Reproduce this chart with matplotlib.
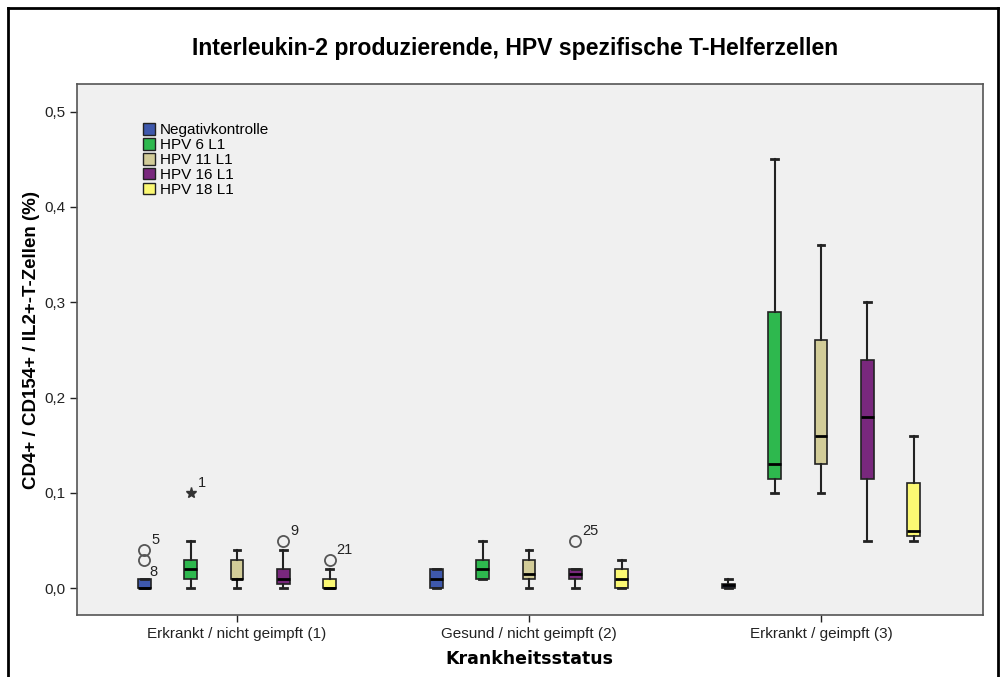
import matplotlib.pyplot as plt
from matplotlib.patches import Patch
from matplotlib.lines import Line2D

plt.rcParams['font.family'] = ['Liberation Sans', 'DejaVu Sans']

groups = ["Erkrankt / nicht geimpft (1)", "Gesund / nicht geimpft (2)", "Erkrankt / geimpft (3)"]
series = ["Negativkontrolle", "HPV 6 L1", "HPV 11 L1", "HPV 16 L1", "HPV 18 L1"]
colors = ["#3e58ac", "#2eb84e", "#d2cc98", "#79287d", "#fbf873"]

# box statistics per series, one value per group
whislo = [[0.0, 0.0, 0.0], [0.0, 0.01, 0.10], [0.0, 0.0, 0.10], [0.0, 0.0, 0.05], [0.0, 0.0, 0.05]]
q1 = [[0.0, 0.0, 0.0], [0.01, 0.01, 0.115], [0.01, 0.01, 0.13], [0.005, 0.01, 0.115], [0.0, 0.0, 0.055]]
med = [[0.0, 0.01, 0.003], [0.02, 0.02, 0.13], [0.01, 0.015, 0.16], [0.01, 0.015, 0.18], [0.0, 0.01, 0.06]]
q3 = [[0.01, 0.02, 0.005], [0.03, 0.03, 0.29], [0.03, 0.03, 0.26], [0.02, 0.02, 0.24], [0.01, 0.02, 0.11]]
whishi = [[0.01, 0.02, 0.01], [0.05, 0.05, 0.45], [0.04, 0.04, 0.36], [0.04, 0.02, 0.30], [0.02, 0.03, 0.16]]

# outliers: group, series, value, case number, marker
out_group = [0, 0, 0, 0, 0, 1]
out_series = [0, 0, 1, 3, 4, 3]
out_value = [0.04, 0.03, 0.10, 0.05, 0.03, 0.05]
out_case = ["5", "8", "1", "9", "21", "25"]
out_marker = ["o", "o", "*", "o", "o", "o"]

step = 46.3 / 292
width = 12.5 / 292

fig = plt.figure(figsize=(10.07, 6.77), dpi=100)
ax = fig.add_axes([0.0765, 0.0916, 0.8997, 0.7843])
ax.set_facecolor("#f0f0f0")

for s in range(len(series)):
    stats = []
    pos = []
    for g in range(len(groups)):
        stats.append({"whislo": whislo[s][g], "q1": q1[s][g], "med": med[s][g],
                      "q3": q3[s][g], "whishi": whishi[s][g], "fliers": []})
        pos.append(g + (s - 2) * step)
    ax.bxp(stats, positions=pos, widths=width, capwidths=width * 0.55,
           showfliers=False, patch_artist=True, manage_ticks=False,
           boxprops=dict(facecolor=colors[s], edgecolor="#222222", linewidth=1.2),
           medianprops=dict(color="black", linewidth=2),
           whiskerprops=dict(color="#222222", linewidth=1.5),
           capprops=dict(color="#222222", linewidth=2))

for i in range(len(out_value)):
    x = out_group[i] + (out_series[i] - 2) * step
    if out_marker[i] == "*":
        ax.plot(x, out_value[i], marker="*", color="#333333", markersize=8, linestyle="none")
    else:
        ax.plot(x, out_value[i], marker="o", markerfacecolor="none", markeredgecolor="#555555",
                markeredgewidth=1.3, markersize=8, linestyle="none")
    dy = -12 if out_case[i] == "8" else 10
    dx = 5 if out_case[i] == "8" else 7
    ax.annotate(out_case[i], (x, out_value[i]), xytext=(dx, dy), textcoords="offset pixels",
                ha="left", va="center", fontsize=10.5, color="#222222")

ax.set_xlim(-0.548, 2.555)
ax.set_ylim(-0.028, 0.529)
ax.set_yticks([0.0, 0.1, 0.2, 0.3, 0.4, 0.5])
ax.set_yticklabels(["0,0", "0,1", "0,2", "0,3", "0,4", "0,5"])
ax.set_xticks(range(len(groups)))
ax.set_xticklabels(groups)
ax.tick_params(labelsize=11, colors="#222222", length=5, width=1)
for sp in ax.spines.values():
    sp.set_color("#555555")
    sp.set_linewidth(1.2)

fig.text(529 / 1007, 1 - 659 / 677, "Krankheitsstatus", family="DejaVu Sans",
         ha="center", va="center", fontsize=12.5, fontweight="bold")
fig.text(32 / 1007, 1 - 340 / 677, "CD4+ / CD154+ / IL2+-T-Zellen (%)", rotation=90,
         ha="center", va="center", fontsize=13.5, fontweight="bold")
fig.text(0.511, 1 - 48 / 677, "Interleukin-2 produzierende, HPV spezifische T-Helferzellen",
         ha="center", va="center", fontsize=16.6, fontweight="bold")

handles = [Patch(facecolor=c, edgecolor="#222222", linewidth=1) for c in colors]
ax.legend(handles, series, loc="upper left", bbox_to_anchor=(0.0645, 0.941), frameon=False,
          fontsize=11, handlelength=0.8, handleheight=0.8, handletextpad=0.3,
          labelspacing=0.05, borderpad=0)

# outer frame of the exported chart
for xs, ys in [([0.008, 0.008], [0.0, 0.988]), ([0.008, 0.991], [0.988, 0.988]),
               ([0.991, 0.991], [0.0, 0.988])]:
    fig.add_artist(Line2D(xs, ys, color="black", linewidth=2, transform=fig.transFigure))

fig.savefig("out.png", dpi=100)
